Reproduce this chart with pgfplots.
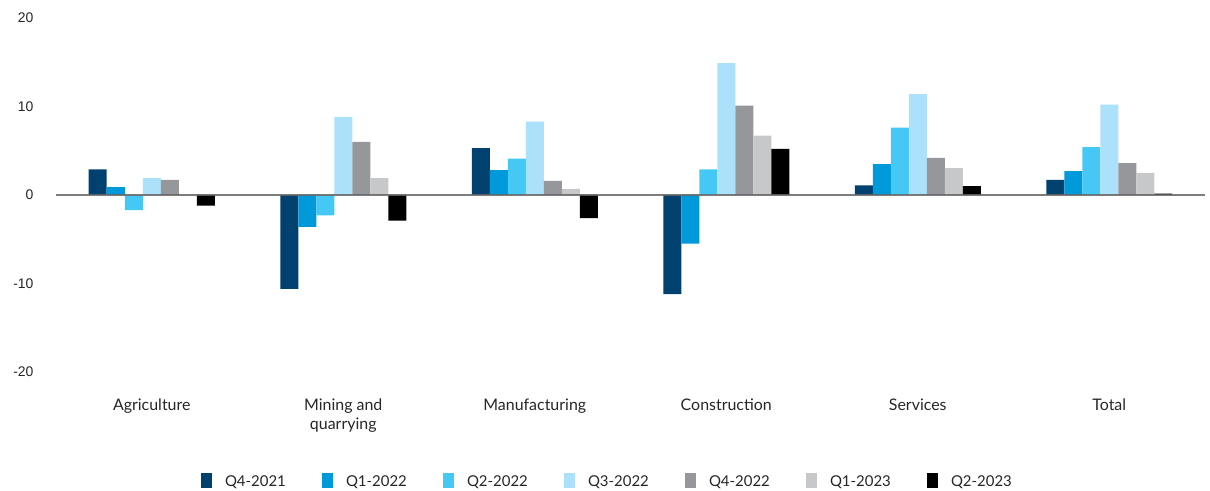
\documentclass[border=0pt]{standalone}
\usepackage{pgfplots}
\pgfplotsset{compat=1.18}
\usepackage{fontspec}
\setmainfont{Lato}
\newfontfamily\tickfont{Liberation Sans}

\definecolor{qa}{HTML}{00416F}
\definecolor{qb}{HTML}{009ADB}
\definecolor{qc}{HTML}{45C8F5}
\definecolor{qd}{HTML}{ABE1FA}
\definecolor{qe}{HTML}{96979B}
\definecolor{qf}{HTML}{C7C8CA}
\definecolor{qg}{HTML}{000000}

\begin{document}
\begin{tikzpicture}
\begin{axis}[
    scale only axis,
    width=1149bp, height=354bp,
    xmin=-0.5, xmax=5.5,
    ymin=-20, ymax=20,
    ybar=0pt, bar width=18bp,
    axis line style={draw=none},
    major tick length=0pt,
    xtick={0,1,2,3,4,5},
    xticklabels={Agriculture, Mining and\\quarrying, Manufacturing, Construction, Services, Total},
    xticklabel style={font=\fontsize{16}{19}\selectfont, align=center, anchor=north, yshift=-23bp, text=black!85},
    ytick={-20,-10,0,10,20},
    yticklabel style={font=\tickfont\fontsize{14}{17}\selectfont, xshift=-19bp, text=black!85},
    /pgf/number format/assume math mode=true,
    legend columns=7,
    legend style={draw=none, at={(0.4948,-0.309)}, anchor=center,
        font=\fontsize{15}{17}\selectfont, text=black!85,
        /tikz/every even column/.append style={column sep=0pt},
        nodes={inner xsep=0pt, text width=97bp, align=left}},
    legend image code/.code={
        \fill[#1,draw=none] (0bp,-6bp) rectangle (11bp,9bp);
        \path (24bp,0bp);
    },
]
\addplot[fill=qa, draw=none] coordinates {(0,2.9) (1,-10.6) (2,5.3) (3,-11.2) (4,1.1) (5,1.7)};
\addlegendentry{Q4-2021}
\addplot[fill=qb, draw=none] coordinates {(0,0.9) (1,-3.6) (2,2.8) (3,-5.5) (4,3.5) (5,2.7)};
\addlegendentry{Q1-2022}
\addplot[fill=qc, draw=none] coordinates {(0,-1.7) (1,-2.3) (2,4.1) (3,2.9) (4,7.6) (5,5.4)};
\addlegendentry{Q2-2022}
\addplot[fill=qd, draw=none] coordinates {(0,1.9) (1,8.8) (2,8.3) (3,14.9) (4,11.4) (5,10.2)};
\addlegendentry{Q3-2022}
\addplot[fill=qe, draw=none] coordinates {(0,1.7) (1,6.0) (2,1.6) (3,10.1) (4,4.2) (5,3.6)};
\addlegendentry{Q4-2022}
\addplot[fill=qf, draw=none] coordinates {(0,0.0) (1,1.9) (2,0.7) (3,6.7) (4,3.05) (5,2.5)};
\addlegendentry{Q1-2023}
\addplot[fill=qg, draw=none] coordinates {(0,-1.2) (1,-2.9) (2,-2.6) (3,5.2) (4,1.0) (5,0.15)};
\addlegendentry{Q2-2023}
\draw[line width=1.6bp, black!60, opacity=0.85] (axis cs:-0.5,0) -- (axis cs:5.5,0);
\coordinate (tl) at (rel axis cs:0,1);
\coordinate (br) at (rel axis cs:1,0);
\end{axis}
\pgfresetboundingbox
\path[use as bounding box] ([xshift=-56bp,yshift=18bp]tl) rectangle ([xshift=5bp,yshift=-119bp]br);
\end{tikzpicture}
\end{document}
